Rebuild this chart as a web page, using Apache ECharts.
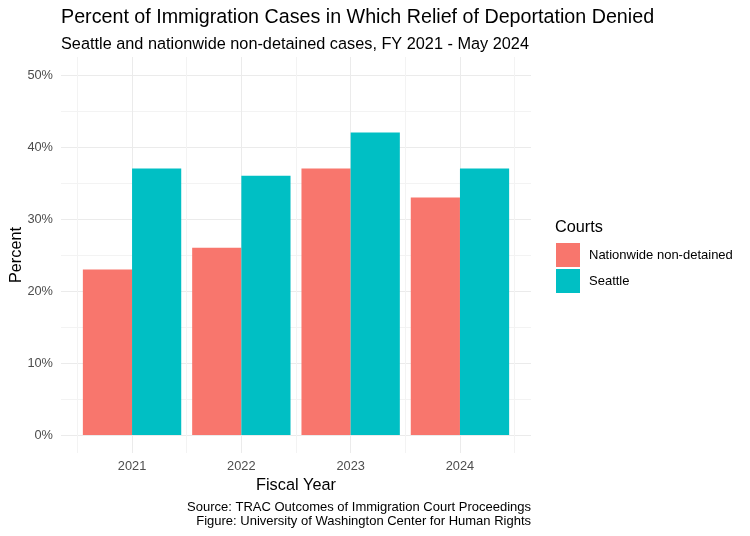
<!DOCTYPE html>
<html>
<head>
<meta charset="utf-8">
<script src="https://cdn.jsdelivr.net/npm/echarts@6/dist/echarts.min.js"></script>
<style>
html,body{margin:0;padding:0;background:#fff;}
#chart{width:750px;height:536px;}
</style>
</head>
<body>
<div id="chart"></div>
<script>
const years = ['2021', '2022', '2023', '2024'];
const nationwide = [23, 26, 37, 33];
const seattle = [37, 36, 42, 37];
const seriesNames = ['Nationwide non-detained', 'Seattle'];
const yTicks = [0, 10, 20, 30, 40, 50];

const FONT = '"Liberation Sans", Arial, Helvetica, sans-serif';
const T = 'rgba(0,0,0,0)';
const MAJ = '#EBEBEB';
const MIN = '#F3F3F3';

// vertical gridline colour cycle (ticks every 0.05 from 0.35): idx3 -> x.5 (minor), idx13 -> x.0 (major)
const xCycle = [];
for (let i = 0; i < 20; i++) xCycle.push(i === 3 ? MIN : (i === 13 ? MAJ : T));

const PANEL = {left: 61, right: 219, top: 57, bottom: 83};
const UNIT = (750 - PANEL.left - PANEL.right) / 4.3; // px per category
const inner = {left: PANEL.left + 0.15 * UNIT, right: PANEL.right + 0.15 * UNIT, top: PANEL.top, bottom: PANEL.bottom};

const chart = echarts.init(document.getElementById('chart'), null, {renderer: 'canvas'});
chart.setOption({
  animation: false,
  backgroundColor: '#ffffff',
  textStyle: {fontFamily: FONT},
  title: [
    {text: 'Percent of Immigration Cases in Which Relief of Deportation Denied', left: 61, top: 8, padding: 0,
     textStyle: {fontFamily: FONT, fontSize: 19.7, fontWeight: 'normal', color: '#000'}},
    {text: 'Seattle and nationwide non-detained cases, FY 2021 - May 2024', left: 61, top: 37, padding: 0,
     textStyle: {fontFamily: FONT, fontSize: 16.3, fontWeight: 'normal', color: '#000'}},
    {text: 'Courts', left: 555, top: 220, padding: 0,
     textStyle: {fontFamily: FONT, fontSize: 16.3, fontWeight: 'normal', color: '#000'}},
    {text: 'Source: TRAC Outcomes of Immigration Court Proceedings\nFigure: University of Washington Center for Human Rights',
     left: 531, top: 500, padding: 0, textAlign: 'right',
     textStyle: {fontFamily: FONT, fontSize: 13, fontWeight: 'normal', color: '#000', lineHeight: 14, align: 'right'}}
  ],
  legend: {
    orient: 'vertical', left: 556, top: 243, padding: 0, itemWidth: 24, itemHeight: 24, itemGap: 2,
    icon: 'rect', data: seriesNames,
    textStyle: {fontFamily: FONT, fontSize: 13, color: '#000', padding: [0, 0, 0, 4]}
  },
  grid: [
    Object.assign({containLabel: false, outerBoundsMode: 'none'}, PANEL),
    Object.assign({containLabel: false, outerBoundsMode: 'none'}, inner)
  ],
  xAxis: [
    {
      gridIndex: 0, type: 'value', min: 0.35, max: 4.65, interval: 0.05,
      axisLine: {show: false}, axisTick: {show: false}, axisLabel: {show: false},
      splitLine: {show: true, lineStyle: {color: xCycle, width: 1}}
    },
    {
      gridIndex: 1, type: 'category', data: years, boundaryGap: true,
      name: 'Fiscal Year', nameLocation: 'middle', nameGap: 25, nameMoveOverlap: false,
      nameTextStyle: {fontFamily: FONT, fontSize: 16.3, color: '#000'},
      axisLine: {show: false}, axisTick: {show: false}, splitLine: {show: false},
      axisLabel: {margin: 7, fontFamily: FONT, fontSize: 12.8, color: '#4D4D4D'}
    }
  ],
  yAxis: [
    {
      gridIndex: 0, type: 'value', min: -2.5, max: 52.5, interval: 2.5,
      name: 'Percent', nameLocation: 'middle', nameGap: 36.5, nameMoveOverlap: false,
      nameTextStyle: {fontFamily: FONT, fontSize: 16.3, color: '#000'},
      axisLine: {show: false}, axisTick: {show: false},
      axisLabel: {
        margin: 8, fontFamily: FONT, fontSize: 12.8, color: '#4D4D4D',
        formatter: function (v) {
          for (const t of yTicks) if (Math.abs(v - t) < 1e-6) return t + '%';
          return '';
        }
      },
      splitLine: {show: true, lineStyle: {color: [T, MAJ, T, MIN], width: 1}}
    },
    {
      gridIndex: 1, type: 'value', min: -2.5, max: 52.5, interval: 2.5, show: false,
      splitLine: {show: false}
    }
  ],
  series: [
    {name: seriesNames[0], type: 'bar', xAxisIndex: 1, yAxisIndex: 1, barWidth: '45%', barGap: '0%',
     itemStyle: {color: '#F8766D'}, data: nationwide},
    {name: seriesNames[1], type: 'bar', xAxisIndex: 1, yAxisIndex: 1, barWidth: '45%', barGap: '0%',
     itemStyle: {color: '#00BFC4'}, data: seattle}
  ]
});
</script>
</body>
</html>
